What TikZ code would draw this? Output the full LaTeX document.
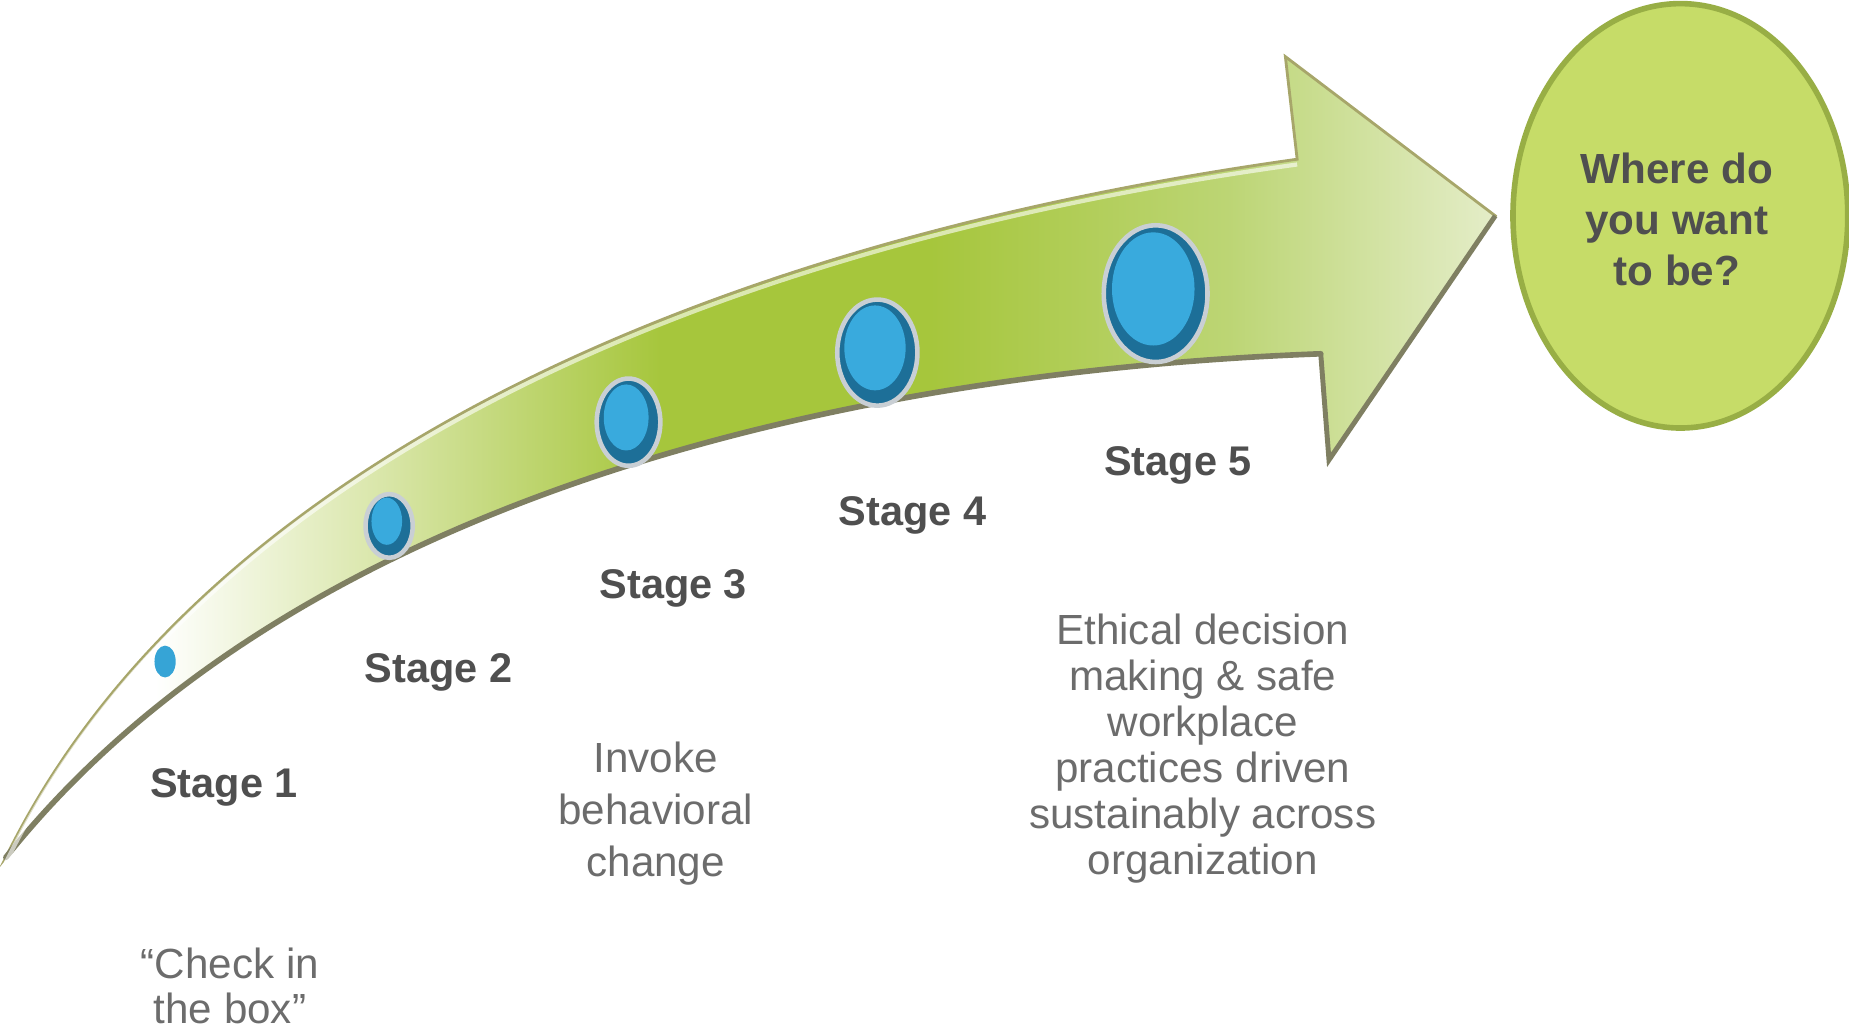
\documentclass[tikz,border=0pt]{standalone}
\usepackage{fontspec}
\setmainfont{Liberation Sans}
\usetikzlibrary{shapes.geometric}
\definecolor{gLight}{HTML}{DCE8B0}
\definecolor{gMid}{HTML}{A6C63C}
\definecolor{gSoft}{HTML}{BCD574}
\definecolor{gPale}{HTML}{E4EDC8}
\definecolor{edgeOl}{HTML}{A7A66A}
\definecolor{edgeDk}{HTML}{7F7F62}
\definecolor{goalFill}{HTML}{C6DC68}
\definecolor{goalEdge}{HTML}{98AE45}
\definecolor{blueDark}{HTML}{1D6F98}
\definecolor{blueLight}{HTML}{39AADD}
\definecolor{rimGray}{HTML}{C9CFD4}
\definecolor{txtDark}{HTML}{4F4F4F}
\definecolor{txtGray}{HTML}{6C6C6C}
\pgfdeclarehorizontalshading{arrowshade}{100bp}{color(0bp)=(white); color(25bp)=(white); color(30bp)=(white); color(37bp)=(gLight); color(47bp)=(gMid); color(56bp)=(gMid); color(66bp)=(gSoft); color(75bp)=(gPale); color(100bp)=(gPale)}
\tikzset{
  stagelabel/.style={font=\bfseries\fontsize{11.8}{14}\selectfont, text=txtDark, inner sep=0pt},
  desc/.style={align=center, text=txtGray, inner sep=0pt},
  dotrim/.style 2 args={ellipse, draw=rimGray, line width=1.3pt, fill=blueDark, inner sep=0pt,
     minimum width={#1*0.3355pt}, minimum height={#2*0.3355pt}},
  dotcore/.style 2 args={ellipse, fill=blueLight, inner sep=0pt,
     minimum width={#1*0.3355pt}, minimum height={#2*0.3355pt}},
}
\begin{document}
\begin{tikzpicture}[x=0.011792cm, y=-0.011792cm]
\useasboundingbox (0,0) rectangle (1568,874);
% curved arrow
\coordinate (tail) at (5,727);
\coordinate (nU) at (1100,135);
\coordinate (hT) at (1090,48);
\coordinate (tip) at (1268,183);
\coordinate (hB) at (1127,390);
\coordinate (nL) at (1120,300);
\path[shading=arrowshade, draw=edgeOl, line width=0.8pt, line join=miter]
  (tail) .. controls (150,430) and (530,215) .. (nU) -- (hT) -- (tip) -- (hB) -- (nL)
  .. controls (720,315) and (250,420) .. (tail) -- cycle;
\draw[edgeDk, line width=1.6pt, line cap=round] (nL) .. controls (720,315) and (250,420) .. (tail);
\draw[edgeDk, line width=1.4pt, line join=miter] (tip) -- (hB) -- (nL);
\draw[white, opacity=0.6, line width=1.2pt] ([yshift=-1.5pt]tail) .. controls (150,433) and (530,218) .. ([yshift=-1.5pt]nU);
% goal ellipse
\node[ellipse, fill=goalFill, draw=goalEdge, line width=1.6pt, minimum width={284*0.3355pt}, minimum height={360*0.3355pt}] (goal) at (1425,183) {};
\node[align=center, font=\bfseries\fontsize{12}{14.4}\selectfont, text=txtDark, inner sep=0pt] (goaltext) at (1422,186) {Where do\\you want\\to be?};
% stage dots
\node[ellipse, fill=blueLight!90!blueDark, inner sep=0pt, minimum width={18*0.3355pt}, minimum height={27*0.3355pt}] (d1) at (140,561) {};
\node[dotrim={40}{54}] (d2) at (330,446) {};
\node[dotcore={26}{40}] (c2) at (328,442) {};
\node[dotrim={54}{74}] (d3) at (533,358) {};
\node[dotcore={38}{56}] (c3) at (531,354) {};
\node[dotrim={68}{90}] (d4) at (744,299) {};
\node[dotcore={52}{72}] (c4) at (742,295) {};
\node[dotrim={88}{116}] (d5) at (980,249) {};
\node[dotcore={70}{96}] (c5) at (978,245) {};
% stage labels
\node[stagelabel] (s1) at (190,668) {Stage 1};
\node[stagelabel] (s2) at (372,570) {Stage 2};
\node[stagelabel] (s3) at (571,499) {Stage 3};
\node[stagelabel] (s4) at (774,437) {Stage 4};
\node[stagelabel] (s5) at (999,395) {Stage 5};
% descriptions
\node[desc, font=\fontsize{12}{12.8}\selectfont] (t1) at (195,836) {“Check in\\the box”};
\node[desc, font=\fontsize{12}{14.8}\selectfont] (t3) at (556,690) {Invoke\\behavioral\\change};
\node[desc, font=\fontsize{12}{13.1}\selectfont] (t5) at (1020,635) {Ethical decision\\making \& safe\\workplace\\practices driven\\sustainably across\\organization};
\end{tikzpicture}
\end{document}
